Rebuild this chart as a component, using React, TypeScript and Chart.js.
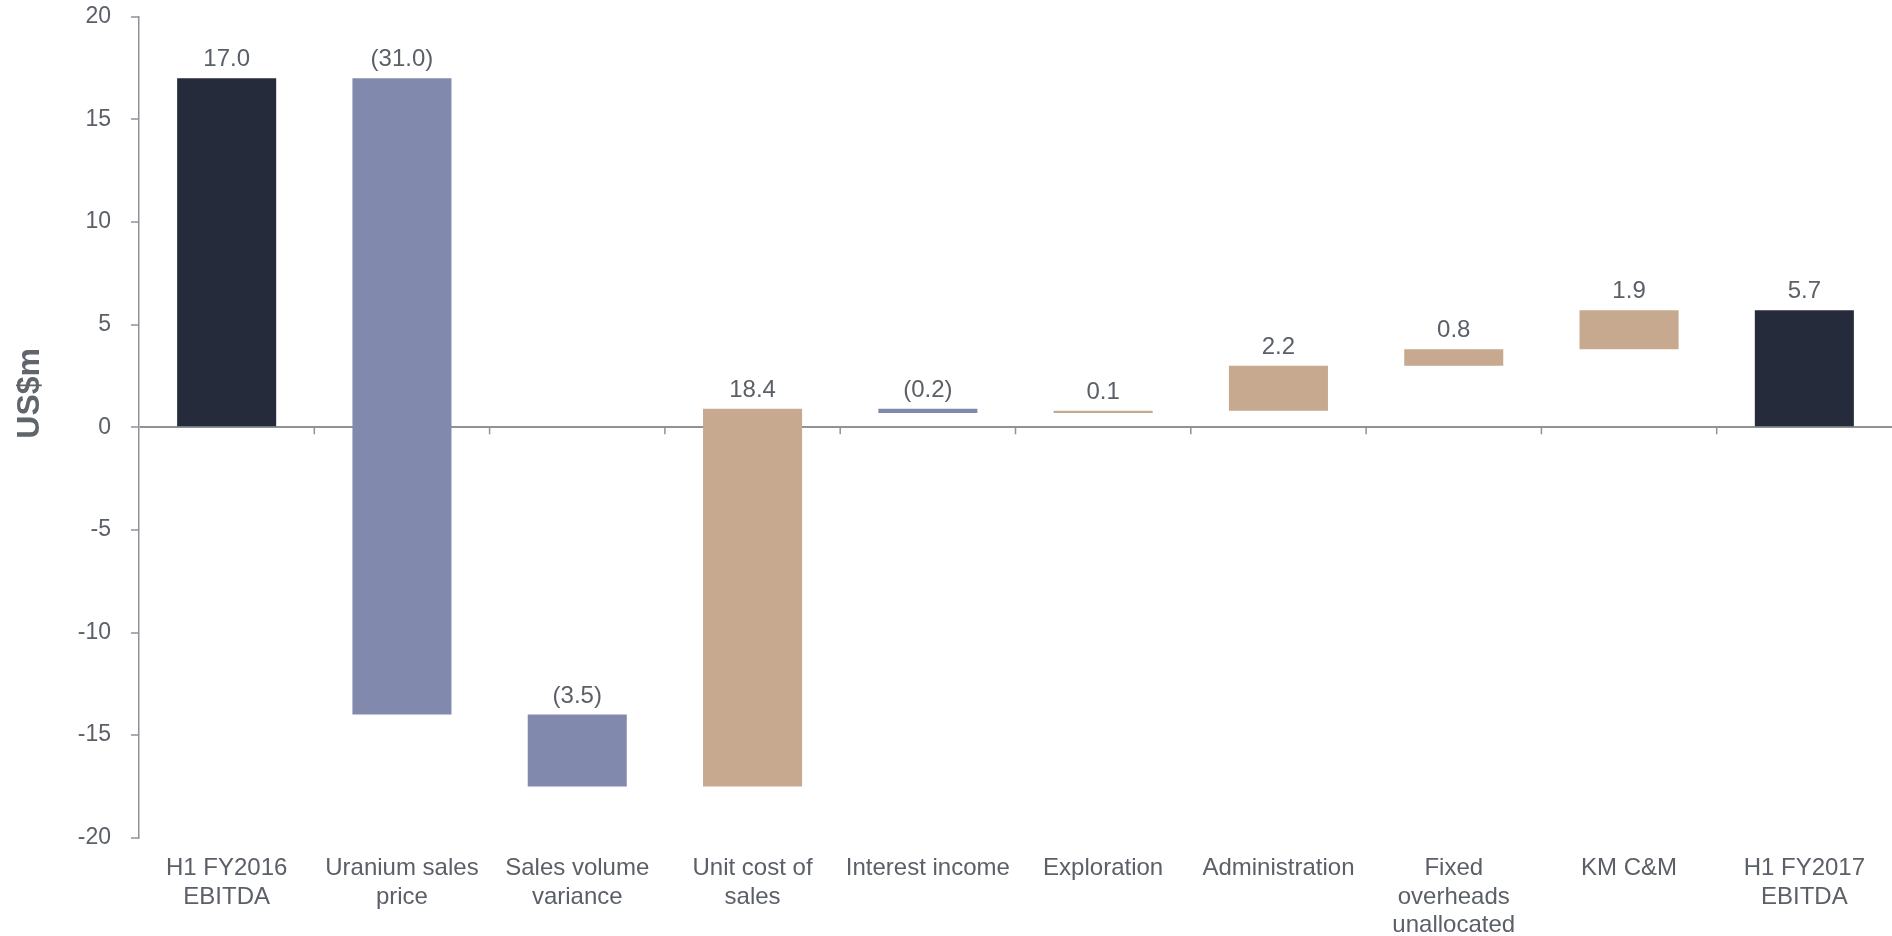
import React, { useEffect, useRef } from "react";
import { Chart, registerables } from "chart.js";

Chart.register(...registerables);

const categories: (string | string[])[] = [
  ["H1 FY2016", "EBITDA"],
  ["Uranium sales", "price"],
  ["Sales volume", "variance"],
  ["Unit cost of", "sales"],
  "Interest income",
  "Exploration",
  "Administration",
  ["Fixed", "overheads", "unallocated"],
  "KM C&M",
  ["H1 FY2017", "EBITDA"],
];

// change for each step; first and last are totals
const changes = [17.0, -31.0, -3.5, 18.4, -0.2, 0.1, 2.2, 0.8, 1.9, 5.7];
const kinds = ["total", "neg", "neg", "pos", "neg", "pos", "pos", "pos", "pos", "total"];
const valueLabels = ["17.0", "(31.0)", "(3.5)", "18.4", "(0.2)", "0.1", "2.2", "0.8", "1.9", "5.7"];

const yTicksMin = -20;
const yTicksMax = 20;
const yTickStep = 5;

const COLORS: Record<string, string> = {
  total: "#252b3b",
  neg: "#818aad",
  pos: "#c6a98f",
};
const TEXT = "#5b6068";
const AXIS = "#8e9398";
const FONT = "'Liberation Sans', Arial, sans-serif";

function buildRanges(): [number, number][] {
  const out: [number, number][] = [];
  let run = 0;
  changes.forEach((c, i) => {
    if (kinds[i] === "total") {
      out.push([0, c]);
      run = c;
    } else {
      const next = Math.round((run + c) * 10) / 10;
      out.push([run, next]);
      run = next;
    }
  });
  return out;
}

export default function App() {
  const ref = useRef<HTMLCanvasElement | null>(null);

  useEffect(() => {
    if (!ref.current) return;
    const ranges = buildRanges();

    const overlay = {
      id: "overlay",
      afterDatasetsDraw(chart: any) {
        const { ctx, chartArea, scales } = chart;
        const x = scales.x;
        const y = scales.y;
        const zeroY = y.getPixelForValue(0);
        ctx.save();
        ctx.strokeStyle = AXIS;
        ctx.lineWidth = 1.5;
        for (let i = 1; i < categories.length; i++) {
          const bx = (x.getPixelForValue(i - 1) + x.getPixelForValue(i)) / 2;
          ctx.beginPath();
          ctx.moveTo(bx, zeroY);
          ctx.lineTo(bx, zeroY + 7);
          ctx.stroke();
        }
        ctx.fillStyle = TEXT;
        ctx.font = `24px ${FONT}`;
        ctx.textAlign = "center";
        ctx.textBaseline = "alphabetic";
        ranges.forEach((r, i) => {
          const top = Math.max(r[0], r[1]);
          const px = x.getPixelForValue(i);
          const py = y.getPixelForValue(top) - 12;
          ctx.fillText(valueLabels[i], px, py);
        });
        ctx.save();
        ctx.translate(30, (chartArea.top + chartArea.bottom) / 2 - 34);
        ctx.rotate(-Math.PI / 2);
        ctx.font = `bold 32px ${FONT}`;
        ctx.fillStyle = "#60656c";
        ctx.textAlign = "center";
        ctx.textBaseline = "middle";
        ctx.fillText("US$m", 0, 0);
        ctx.restore();
        ctx.restore();
      },
    };

    const chart = new Chart(ref.current, {
      type: "bar",
      data: {
        labels: categories,
        datasets: [
          {
            data: ranges as any,
            backgroundColor: kinds.map((k) => COLORS[k]),
            borderWidth: 0,
            borderSkipped: false,
            barPercentage: 0.565,
            categoryPercentage: 1,
          },
        ],
      },
      options: {
        animation: false,
        responsive: true,
        maintainAspectRatio: false,
        layout: { padding: { top: -11, right: 0, bottom: -16, left: 0 } },
        plugins: {
          legend: { display: false },
          tooltip: { enabled: false },
        },
        scales: {
          x: {
            grid: { display: false, drawTicks: false },
            border: { display: false },
            ticks: {
              color: TEXT,
              font: { family: FONT, size: 24, lineHeight: 1.17 },
              padding: 17,
              maxRotation: 0,
              autoSkip: false,
            },
          },
          y: {
            min: yTicksMin,
            max: yTicksMax,
            afterFit(scale: any) {
              scale.width = 139;
            },
            ticks: {
              stepSize: yTickStep,
              color: TEXT,
              font: { family: FONT, size: 23 },
              padding: 20,
            },
            grid: {
              color: (c: any) => (c.tick && c.tick.value === 0 ? AXIS : "rgba(0,0,0,0)"),
              lineWidth: 2,
              tickColor: AXIS,
              tickLength: 8,
              tickWidth: 1.5,
            },
            border: { display: true, color: AXIS, width: 1.5 },
          },
        },
      },
      plugins: [overlay],
    });
    return () => chart.destroy();
  }, []);

  return (
    <div style={{ position: "absolute", left: 0, top: -17, width: 1892, height: 957, background: "#fff" }}>
      <canvas ref={ref} />
    </div>
  );
}
